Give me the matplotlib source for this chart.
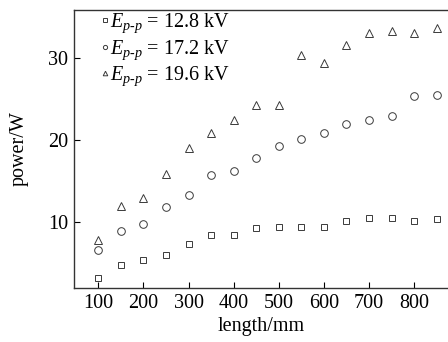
import matplotlib
matplotlib.use('Agg')
import matplotlib.pyplot as plt

plt.rcParams['font.family'] = 'Liberation Serif'
plt.rcParams['mathtext.fontset'] = 'custom'
plt.rcParams['mathtext.rm'] = 'Liberation Serif'
plt.rcParams['mathtext.it'] = 'Liberation Serif:italic'

length = [100, 150, 200, 250, 300, 350, 400, 450, 500, 550, 600, 650, 700, 750, 800, 850]
p_128 = [3.2, 4.8, 5.4, 6.0, 7.4, 8.4, 8.4, 9.3, 9.4, 9.4, 9.4, 10.2, 10.5, 10.5, 10.2, 10.4]
p_172 = [6.6, 9.0, 9.8, 11.9, 13.3, 15.7, 16.3, 17.8, 19.3, 20.1, 20.9, 22.0, 22.4, 23.0, 25.4, 25.5]
p_196 = [7.9, 12.0, 13.0, 15.9, 19.0, 20.9, 22.4, 24.3, 24.3, 30.4, 29.4, 31.6, 33.0, 33.3, 33.0, 33.6]
labels = [r'$E_{p\text{-}p}$ = 12.8 kV', r'$E_{p\text{-}p}$ = 17.2 kV', r'$E_{p\text{-}p}$ = 19.6 kV']

fig = plt.figure(figsize=(4.48, 3.42), dpi=100)
ax = fig.add_axes([74 / 448, 54 / 342, 374 / 448, 278 / 342])

c = '#3a3a3a'
ax.plot(length, p_128, 's', ms=5, mfc='none', mec=c, mew=0.7, label=labels[0])
ax.plot(length, p_172, 'o', ms=5.5, mfc='none', mec=c, mew=0.7, label=labels[1])
ax.plot(length, p_196, '^', ms=6, mfc='none', mec=c, mew=0.7, label=labels[2])

ax.set_xlim(46, 875)
ax.set_ylim(2, 35.85)
ax.set_xticks([100, 200, 300, 400, 500, 600, 700, 800])
ax.set_yticks([10, 20, 30])
ax.tick_params(direction='in', labelsize=14.5, length=4, width=0.8, pad=4)
for s in ['left', 'bottom', 'top']:
    ax.spines[s].set_linewidth(1.0)
    ax.spines[s].set_color('#333333')
ax.spines['right'].set_visible(False)

ax.set_xlabel('length/mm', fontsize=14.5, labelpad=3)
ax.set_ylabel('power/W', fontsize=14.5, labelpad=14)

leg = ax.legend(loc='upper left', bbox_to_anchor=(0.036, 1.045), frameon=False,
                fontsize=14.5, handlelength=0.3, handletextpad=0.1,
                labelspacing=0.15, borderpad=0.2, markerscale=0.55)

fig.savefig('out.png', dpi=100)
